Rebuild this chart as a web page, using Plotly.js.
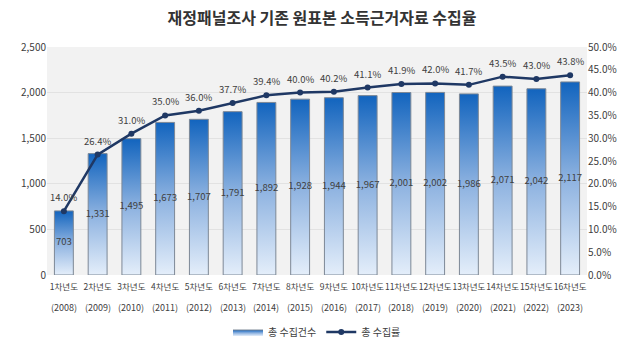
<!DOCTYPE html>
<html>
<head>
<meta charset="utf-8">
<script src="https://cdn.plot.ly/plotly-3.0.1.min.js"></script>
<style>html,body{margin:0;padding:0;background:#fff;}#chart{width:644px;height:363px;}</style>
</head>
<body>
<div id="chart"></div>
<script>
const categories = ['1차년도','2차년도','3차년도','4차년도','5차년도','6차년도','7차년도','8차년도','9차년도','10차년도','11차년도','12차년도','13차년도','14차년도','15차년도','16차년도'];
const years = ['(2008)','(2009)','(2010)','(2011)','(2012)','(2013)','(2014)','(2015)','(2016)','(2017)','(2018)','(2019)','(2020)','(2021)','(2022)','(2023)'];
const counts = [703,1331,1495,1673,1707,1791,1892,1928,1944,1967,2001,2002,1986,2071,2042,2117];
const rates = [14.0,26.4,31.0,35.0,36.0,37.7,39.4,40.0,40.2,41.1,41.9,42.0,41.7,43.5,43.0,43.8];
const countName = '총 수집건수';
const rateName = '총 수집률';

const FONT = '"Noto Sans CJK KR", "Liberation Sans", sans-serif';
const idx = categories.map((c,i)=>i);
const half = 0.28;
const traces = [];
counts.forEach((v,i)=>{
  traces.push({
    type:'scatter', mode:'lines',
    x:[i-half,i+half,i+half,i-half,i-half],
    y:[0,0,v,v,0],
    fill:'toself',
    fillgradient:{type:'vertical', colorscale:[[0,'#e4eefa'],[0.5,'#8db2e0'],[1,'#1264be']]},
    line:{color:'#7d8896', width:1},
    name:countName, legendgroup:'cnt', showlegend:i===0,
    hoverinfo:'skip'
  });
});
traces.push({
  type:'scatter', mode:'text',
  x:idx, y:counts.map(v=>v/2),
  text:counts.map(v=>v.toLocaleString('en-US')),
  textposition:'middle center',
  textfont:{size:9.5, color:'#404040', family:FONT},
  showlegend:false, hoverinfo:'skip'
});
traces.push({
  type:'scatter', mode:'lines+markers',
  x:idx, y:rates, yaxis:'y2',
  line:{color:'#1f3864', width:2.5},
  marker:{color:'#1f3864', size:6},
  name:rateName
});

const annotations = years.map((y,i)=>({
  x:i, xref:'x', y:0, yref:'paper', yshift:-32, yanchor:'middle',
  text:y, showarrow:false, font:{size:9, color:'#404040', family:FONT}
})).concat(rates.map((r,i)=>({
  x:i, xref:'x', y:r, yref:'y2', yshift:14, yanchor:'middle',
  text:r.toFixed(1)+'%', showarrow:false, font:{size:9.5, color:'#404040', family:FONT}
})));

const layout = {
  width:644, height:363,
  margin:{l:47, r:57, t:47, b:88},
  paper_bgcolor:'#ffffff', plot_bgcolor:'#f2f2f2',
  font:{family:FONT, size:10, color:'#404040'},
  title:{text:'<b>재정패널조사 기존 원표본 소득근거자료 수집율</b>', x:0.5, xanchor:'center', y:0.95, yanchor:'middle', font:{size:16, color:'#333333', family:FONT}},
  xaxis:{range:[-0.5,15.5], tickvals:idx, ticktext:categories, tickangle:0, ticklabelstandoff:5, showgrid:false, zeroline:false, ticks:'', tickfont:{size:8.5, color:'#404040'}, fixedrange:true},
  yaxis:{range:[0,2500], dtick:500, tickformat:',', gridcolor:'#e2e2e2', zeroline:false, ticks:'', tickfont:{size:10, color:'#404040'}},
  yaxis2:{range:[0,50], dtick:5, tickformat:'.1f', ticksuffix:'%', overlaying:'y', side:'right', showgrid:false, zeroline:false, ticks:'', tickfont:{size:10, color:'#404040'}},
  legend:{orientation:'h', x:0.5, xanchor:'center', y:-0.25, yanchor:'middle', font:{size:10, color:'#404040'}, bgcolor:'rgba(0,0,0,0)'},
  annotations:annotations,
  showlegend:true
};
Plotly.newPlot('chart', traces, layout, {displayModeBar:false, staticPlot:true});
</script>
</body>
</html>
